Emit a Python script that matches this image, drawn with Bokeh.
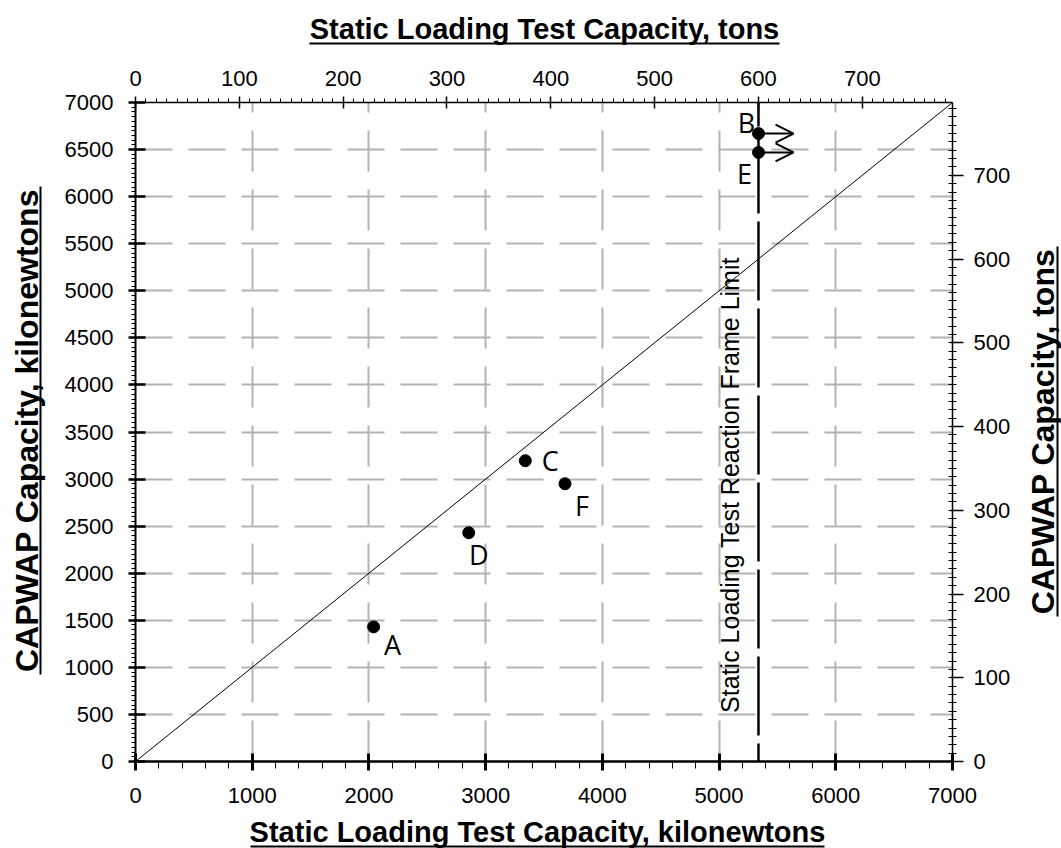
import math
from bokeh.plotting import figure
from bokeh.models import (Label, Arrow, OpenHead, Range1d, LinearAxis,
                          SingleIntervalTicker)
from bokeh.core.properties import value
from bokeh.layouts import row, column
from bokeh.embed import file_html
from bokeh.resources import INLINE

# ---- data (kilonewtons) ----
pile_ids = ["A", "D", "C", "F", "B", "E"]
static_kn = [2040, 2855, 3340, 3680, 5338, 5338]
capwap_kn = [1430, 2430, 3195, 2950, 6670, 6470]
# piles whose static test stopped at the reaction frame limit
frame_limited = ["B", "E"]

KN_PER_TON = 8.896
frame_limit_tons = 600
axis_max_kn = 7000

kn_ticks_left = 500
kn_ticks_bottom = 1000
ton_ticks = 100

limit_kn = frame_limit_tons * KN_PER_TON
axis_max_tons = axis_max_kn / KN_PER_TON

FONT = "Liberation Sans"

# page geometry (pixels)
PAGE_W, PAGE_H = 1061, 848
LEFT_W, RIGHT_W = 50, 45
TOP_H, BOTTOM_H = 50, 36
MAIN_W = PAGE_W - LEFT_W - RIGHT_W
MAIN_H = PAGE_H - TOP_H - BOTTOM_H

p = figure(width=MAIN_W, height=MAIN_H,
           x_range=Range1d(0, axis_max_kn), y_range=Range1d(0, axis_max_kn),
           output_backend="svg", toolbar_location=None, frame_align=False)
p.min_border_left = 85
p.min_border_right = 64
p.min_border_top = 52
p.min_border_bottom = 51
p.outline_line_color = None
p.background_fill_color = "white"
p.border_fill_color = "white"

p.extra_x_ranges = {"tons": Range1d(0, axis_max_tons)}
p.extra_y_ranges = {"tons": Range1d(0, axis_max_tons)}

# ---- axes ----
left = p.yaxis[0]
left.ticker = SingleIntervalTicker(interval=kn_ticks_left, num_minor_ticks=10)
left.major_tick_in, left.major_tick_out = 10, 7
left.minor_tick_in, left.minor_tick_out = 0, 4
left.axis_line_width = 2
left.major_tick_line_width = 2.5
left.major_label_standoff = 15

bottom = p.xaxis[0]
bottom.ticker = SingleIntervalTicker(interval=kn_ticks_bottom, num_minor_ticks=5)
bottom.major_tick_in, bottom.major_tick_out = 8, 9
bottom.minor_tick_in, bottom.minor_tick_out = 0, 7
bottom.axis_line_width = 2.5
bottom.major_tick_line_width = 3
bottom.major_label_standoff = 17

top = LinearAxis(x_range_name="tons",
                 ticker=SingleIntervalTicker(interval=ton_ticks, num_minor_ticks=10))
top.major_tick_in, top.major_tick_out = 6, 6
top.minor_tick_in, top.minor_tick_out = 0, 4
top.axis_line_width = 1.5
top.major_tick_line_width = 1.5
top.major_label_standoff = 11
p.add_layout(top, "above")

right = LinearAxis(y_range_name="tons",
                   ticker=SingleIntervalTicker(interval=ton_ticks, num_minor_ticks=10))
right.major_tick_in, right.major_tick_out = 2, 11
right.minor_tick_in, right.minor_tick_out = 4, 4
right.axis_line_width = 1.5
right.major_tick_line_width = 1.5
right.major_label_standoff = 10
p.add_layout(right, "right")

for ax in (left, bottom, top, right):
    ax.major_label_text_font = FONT
    ax.major_label_text_font_size = "22px"
    ax.major_label_text_color = "black"
    ax.axis_line_color = "black"
    ax.major_tick_line_color = "black"
    ax.minor_tick_line_color = "black"
    ax.minor_tick_line_width = 1

# ---- grid ----
p.xgrid.grid_line_color = "#b3b3b3"
p.xgrid.grid_line_width = 2
p.xgrid.grid_line_dash = "41 18"
p.ygrid.grid_line_color = "#b3b3b3"
p.ygrid.grid_line_width = 2
p.ygrid.grid_line_dash = "37 16"

# ---- 1:1 line ----
p.line([0, axis_max_kn], [0, axis_max_kn], line_color="black", line_width=1)

# ---- reaction frame limit ----
p.line([limit_kn, limit_kn], [0, axis_max_kn], line_color="black",
       line_width=2.5, line_dash="79 8", line_dash_offset=61)
p.add_layout(Label(x=594, y=276.5, x_units="screen", y_units="screen",
                   text="Static Loading Test Reaction Frame Limit",
                   angle=math.pi / 2, text_align="center",
                   text_baseline="middle", text_font=FONT,
                   text_font_size="25px", text_color="black"))

# ---- arrows: capacity exceeds frame limit ----
ARROW_LEN_KN = 300
for pid, xv, yv in zip(pile_ids, static_kn, capwap_kn):
    if pid in frame_limited:
        p.add_layout(Arrow(x_start=xv, y_start=yv, x_end=xv + ARROW_LEN_KN, y_end=yv,
                           line_color="black", line_width=2,
                           end=OpenHead(size=18, line_width=2, line_color="black")))

# ---- points ----
p.scatter(static_kn, capwap_kn, size=12, color="black")

label_offsets = {"A": (19, -18), "D": (10, -22), "C": (25, 0),
                 "F": (17, -22), "B": (-12, 11), "E": (-14, -21)}
for pid, xv, yv in zip(pile_ids, static_kn, capwap_kn):
    dx, dy = label_offsets[pid]
    p.add_layout(Label(x=xv, y=yv, x_offset=dx, y_offset=dy, text=pid,
                       text_align="center", text_baseline="middle",
                       text_font="Open Sans", text_font_size="27px",
                       text_color="black"))


# ---- strips around the plot carrying the underlined axis titles ----
def strip(w, h):
    s = figure(width=w, height=h, x_range=Range1d(0, w), y_range=Range1d(0, h),
               output_backend="svg", toolbar_location=None,
               x_axis_location=None, y_axis_location=None, min_border=0,
               frame_align=False)
    s.outline_line_color = None
    s.grid.visible = False
    s.background_fill_color = "white"
    s.border_fill_color = "white"
    return s


def title(s, text, x, y, angle, size, ul):
    s.text(x=[x], y=[y], text=[text], angle=angle, text_align="center",
           text_baseline="middle", text_font=value(FONT),
           text_font_style="bold", text_font_size=size, text_color="black")
    (x0, y0), (x1, y1) = ul
    s.segment(x0=[x0], y0=[y0], x1=[x1], y1=[y1], line_color="black",
              line_width=2)


top_strip = strip(MAIN_W, TOP_H)
title(top_strip, "Static Loading Test Capacity, tons", 494, 21.4, 0, "29px",
      ((259, 7), (729, 7)))

bottom_strip = strip(MAIN_W, BOTTOM_H)
title(bottom_strip, "Static Loading Test Capacity, kilonewtons", 487, 16.4, 0, "29px",
      ((200, 2), (774, 2)))

left_strip = strip(LEFT_W, PAGE_H)
title(left_strip, "CAPWAP Capacity, kilonewtons", 26.5, PAGE_H - 430, math.pi / 2,
      "32px", ((40, PAGE_H - 674), (40, PAGE_H - 186)))

right_strip = strip(RIGHT_W, PAGE_H)
title(right_strip, "CAPWAP Capacity, tons", 26, PAGE_H - 431, math.pi / 2,
      "32px", ((41, PAGE_H - 616), (41, PAGE_H - 246)))

layout = row(left_strip, column(top_strip, p, bottom_strip, spacing=0),
             right_strip, spacing=0)

open("out.html", "w").write(file_html(layout, INLINE))
